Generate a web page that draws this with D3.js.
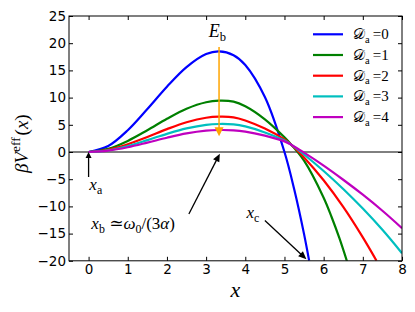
<!DOCTYPE html>
<html><head><meta charset="utf-8">
<script src="https://cdn.jsdelivr.net/npm/d3@7"></script>
<style>body{margin:0;background:#fff} svg{display:block}</style>
</head><body><svg id="c" width="415" height="312"></svg>
<script>
// ---- data ----
const seriesNames = ["0", "1", "2", "3", "4"];           // D_a values
const seriesColors = ["#0000ff", "#008000", "#ff0000", "#00bfbf", "#bf00bf"];
const xBlue = [0, 0.5, 1, 1.5, 2, 2.5, 3, 3.33, 3.7, 4, 4.5, 5, 5.25, 5.5, 5.63];
const vBlue = [0, 1.1, 4, 7.9, 12, 15.6, 18, 18.5, 17.8, 16, 10.1, 0, -6.9, -15.1, -20];
const xGreen = [0, 0.5, 1, 1.5, 2, 2.5, 3, 3.33, 3.7, 4, 4.5, 5, 5.18, 5.5, 6, 6.2, 6.4, 6.6];
const vGreen = [0, 0.57, 2.04, 4.0, 6.1, 7.95, 9.15, 9.43, 9.25, 8.4, 6.0, 2.7, 1.3, -1.6, -8.4, -11.9, -15.8, -20.2];
const xRed = [0, 0.5, 1, 1.5, 2, 2.5, 3, 3.33, 3.7, 4, 4.5, 5, 5.18, 5.5, 6, 6.5, 7, 7.35];
const vRed = [0, 0.39, 1.4, 2.76, 4.2, 5.47, 6.3, 6.49, 6.38, 5.8, 4.3, 2.3, 1.3, -1.0, -5.2, -10.1, -15.7, -20];
const xCyan = [0, 0.5, 1, 1.5, 2, 2.5, 3, 3.33, 3.7, 4, 4.5, 5, 5.18, 5.5, 6, 6.5, 7, 7.5, 8];
const vCyan = [0, 0.31, 1.11, 2.19, 3.34, 4.34, 5.0, 5.15, 5.07, 4.7, 3.6, 2.1, 1.3, -0.46, -3.5, -6.8, -10.4, -14.3, -18.6];
const xMagenta = [0, 0.5, 1, 1.5, 2, 2.5, 3, 3.33, 3.7, 4, 4.5, 5, 5.18, 5.5, 6, 6.5, 7, 7.5, 8];
const vMagenta = [0, 0.25, 0.87, 1.72, 2.62, 3.41, 3.92, 4.04, 3.99, 3.75, 3.0, 1.95, 1.3, -0.12, -2.5, -5.1, -7.85, -10.8, -14.0];
const xTicks = [0, 1, 2, 3, 4, 5, 6, 7, 8];
const yTicks = [-20, -15, -10, -5, 0, 5, 10, 15, 20, 25];
const xDomain = [-0.5, 8];
const yDomain = [-20, 25];
// annotations (data units)
const barrierX = 3.33, barrierTop = 19.3, barrierBottom = 2.9;
const xaArrow = [[0, -4.6], [0, 0]];
const xbArrow = [[2.56, -11.4], [3.35, -0.3]];
const xcArrow = [[4.5, -12.6], [5.56, -19.7]];

const series = [
  {xs: xBlue, vs: vBlue}, {xs: xGreen, vs: vGreen}, {xs: xRed, vs: vRed},
  {xs: xCyan, vs: vCyan}, {xs: xMagenta, vs: vMagenta}
].map((s, i) => ({name: seriesNames[i], color: seriesColors[i], pts: s.xs.map((xv, j) => [xv, s.vs[j]])}));

const W = 415, H = 312, m = {l: 69, r: 13, t: 16, b: 51.2};
const svg = d3.select("#c");
const x = d3.scaleLinear().domain(xDomain).range([m.l, W - m.r]);
const y = d3.scaleLinear().domain(yDomain).range([H - m.b, m.t]);
const SANS = "'DejaVu Sans', sans-serif";
const SERIF = "'Liberation Serif', 'DejaVu Serif', serif";

svg.append("defs").append("clipPath").attr("id", "clip")
  .append("rect").attr("x", m.l).attr("y", m.t).attr("width", W - m.l - m.r).attr("height", H - m.t - m.b);

// zero line
svg.append("line").attr("x1", x(xDomain[0])).attr("x2", x(xDomain[1]))
  .attr("y1", y(0)).attr("y2", y(0)).attr("stroke", "#000").attr("stroke-width", 1);

// curves
const line = d3.line().x(d => x(d[0])).y(d => y(d[1])).curve(d3.curveCatmullRom.alpha(0.5));
svg.append("g").attr("clip-path", "url(#clip)").selectAll("path").data(series).join("path")
  .attr("d", d => line(d.pts)).attr("fill", "none").attr("stroke", d => d.color)
  .attr("stroke-width", 2.2).attr("stroke-linejoin", "round");

// axes (inward ticks on all sides)
function styleAxis(g) {
  g.select(".domain").remove();
  g.selectAll("line").attr("stroke", "#000");
  g.selectAll("text").attr("font-family", SANS).attr("font-size", 13.5).attr("fill", "#000");
}
svg.append("g").attr("transform", `translate(0,${y(yDomain[0])})`)
  .call(d3.axisBottom(x).tickValues(xTicks).tickSizeInner(-4).tickSizeOuter(0).tickPadding(4).tickFormat(d3.format("d")))
  .call(styleAxis);
svg.append("g").attr("transform", `translate(0,${y(yDomain[1])})`)
  .call(d3.axisTop(x).tickValues(xTicks).tickSizeInner(-4).tickSizeOuter(0).tickFormat(""))
  .call(styleAxis);
svg.append("g").attr("transform", `translate(${x(xDomain[0])},0)`)
  .call(d3.axisLeft(y).tickValues(yTicks).tickSizeInner(-4).tickSizeOuter(0).tickPadding(3).tickFormat(d => d3.format("d")(d).replace("-", "\u2212")))
  .call(styleAxis);
svg.append("g").attr("transform", `translate(${x(xDomain[1])},0)`)
  .call(d3.axisRight(y).tickValues(yTicks).tickSizeInner(-4).tickSizeOuter(0).tickFormat(""))
  .call(styleAxis);

// frame
svg.append("rect").attr("x", x(xDomain[0])).attr("y", y(yDomain[1]))
  .attr("width", x(xDomain[1]) - x(xDomain[0])).attr("height", y(yDomain[0]) - y(yDomain[1]))
  .attr("fill", "none").attr("stroke", "#000").attr("stroke-width", 1);

// math text helper
function mathText(parent, px, py, segs, size) {
  const t = parent.append("text").attr("x", px).attr("y", py).attr("font-family", SERIF)
    .attr("font-size", size).attr("fill", "#000");
  let shift = 0;
  segs.forEach(s => {
    const sp = t.append("tspan").text(s.t);
    if (s.i) sp.attr("font-style", "italic");
    let target = 0, fs = size;
    if (s.sub) { target = size * 0.25; fs = size * 0.7; }
    if (s.sup) { target = -size * 0.42; fs = size * 0.7; }
    sp.attr("font-size", fs).attr("dy", target - shift);
    shift = target;
    if (s.dx) sp.attr("dx", s.dx);
  });
  return t;
}

// arrows
function arrow(p0, p1, color, lw, hl, hw) {
  const x0 = x(p0[0]), y0 = y(p0[1]), x1 = x(p1[0]), y1 = y(p1[1]);
  const dx = x1 - x0, dy = y1 - y0, L = Math.hypot(dx, dy), ux = dx / L, uy = dy / L;
  const bx = x1 - ux * hl, by = y1 - uy * hl;
  svg.append("line").attr("x1", x0).attr("y1", y0).attr("x2", bx + ux).attr("y2", by + uy)
    .attr("stroke", color).attr("stroke-width", lw);
  svg.append("polygon").attr("points", [[x1, y1], [bx - uy * hw / 2, by + ux * hw / 2], [bx + uy * hw / 2, by - ux * hw / 2]].map(p => p.join(",")).join(" "))
    .attr("fill", color);
}
arrow([barrierX, barrierTop], [barrierX, barrierBottom], "#ffa500", 1.5, 9, 9);
arrow(xaArrow[0], xaArrow[1], "#000", 1.3, 6, 6);
arrow(xbArrow[0], xbArrow[1], "#000", 1.3, 8, 7);
arrow(xcArrow[0], xcArrow[1], "#000", 1.3, 8, 7);

// annotation labels
mathText(svg, x(3.07), y(21.2), [{t: "E", i: 1}, {t: "b", sub: 1}], 18);
mathText(svg, x(0.02), y(-6.9), [{t: "x", i: 1}, {t: "a", sub: 1}], 17);
mathText(svg, x(0.07), y(-14.15), [{t: "x", i: 1}, {t: "b", sub: 1}, {t: "\u2009\u2243", dx: 1}, {t: "\u03c9", i: 1}, {t: "0", sub: 1}, {t: "/(3"}, {t: "\u03b1", i: 1}, {t: ")"}], 17);
mathText(svg, x(4.03), y(-12.1), [{t: "x", i: 1}, {t: "c", sub: 1}], 17);

// axis labels
mathText(svg, (x(xDomain[0]) + x(xDomain[1])) / 2 - 5, 297, [{t: "x", i: 1}], 22);
const yl = svg.append("g").attr("transform", "translate(28,173) rotate(-90)");
mathText(yl, 0, 0, [{t: "\u03b2", i: 1}, {t: "V", i: 1}, {t: "eff", sup: 1}, {t: "(", dx: 2}, {t: "x", i: 1}, {t: ")"}], 19);

// legend (no frame)
const lg = svg.append("g");
series.forEach((s, i) => {
  const ly = 34.3 + i * 20.7;
  lg.append("line").attr("x1", 313).attr("x2", 343).attr("y1", ly).attr("y2", ly)
    .attr("stroke", s.color).attr("stroke-width", 2.2);
  mathText(lg, 353, ly + 5, [{t: "\ud835\udc9f"}, {t: "a", sub: 1}, {t: "\u2009=" + s.name}], 15);
});
</script></body></html>
